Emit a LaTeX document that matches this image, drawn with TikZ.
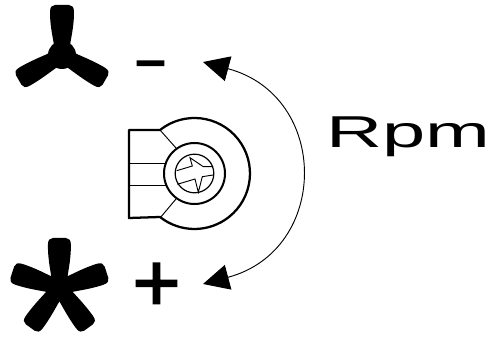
\documentclass[tikz,border=0pt]{standalone}
\usepackage{fontspec}
\setmainfont{Liberation Sans}
\newfontfamily\signfont[FakeBold=2]{Liberation Sans}
\usetikzlibrary{arrows.meta, positioning}
\tikzstyle{label} = [inner sep=0pt, outer sep=0pt, text=black]
\tikzstyle{ring} = [circle, draw=black, inner sep=0pt, line width=1.5pt]
\tikzstyle{heavy} = [line width=1.7pt, line join=round]
\tikzstyle{light} = [line width=0.7pt]
\tikzstyle{arrow} = [line width=0.7pt,{Triangle[length=19.5pt,width=19pt]}-{Triangle[length=19.5pt,width=19pt]}]
\tikzstyle{blade} = [fill=black, draw=none]
% blade{length}{half width at the tip}
\newcommand{\bladeshape}[2]{(-8,-8) .. controls (-8,-14) and (-#2,-#1+24) .. (-#2,-#1+7)
  .. controls (-#2,-#1+2) and (-#2+2,-#1) .. (-#2+5,-#1) -- (#2-5,-#1)
  .. controls (#2-2,-#1) and (#2,-#1+2) .. (#2,-#1+7)
  .. controls (#2,-#1+24) and (8,-14) .. (8,-8) -- cycle}
\begin{document}
\begin{tikzpicture}[x=0.75pt, y=-0.75pt]
        \useasboundingbox (0,0) rectangle (492,338);

        % three blade fan
        \coordinate (fanA) at (62,55);
        \fill [blade] (fanA) circle (14);
        \foreach \ang/\wid in {0/12, 120/10.5, 240/10.5}
            \fill [blade, shift={(fanA)}, rotate=\ang] \bladeshape{50}{\wid};

        % five blade fan
        \coordinate (fanB) at (59.4,287.5);
        \fill [blade] (fanB) circle (14);
        \foreach \ang/\wid in {0/11.5, 72/11, 144/10.5, 216/10.5, 288/11}
            \fill [blade, shift={(fanB)}, rotate=\ang] \bladeshape{49.5}{\wid};

        \node (minus) [label, xscale=1.8, font=\signfont\fontsize{44}{44}\selectfont] at (150.5,70) {-};
        \node (plus) [label, font=\signfont\fontsize{62}{62}\selectfont] at (156.5,287) {+};
        \node (rpm) [label, anchor=base west, xscale=1.74, font=\fontsize{33.5}{33.5}\selectfont] at (326,148) {Rpm};

        % knob
        \coordinate (knob) at (194.5,173.5);
        \coordinate (bodyA) at (160,130);
        \coordinate (bodyB) at (160,218);
        \coordinate (cornerA) at (129,130);
        \coordinate (cornerB) at (129,218);
        \node (collar) [ring, minimum size=45.75pt] at (knob) {};
        \node (screw) [ring, line width=0.9pt, minimum size=29pt] at (knob) {};
        \draw [heavy] (bodyA) arc [start angle=-128.4, end angle=128.4, radius=55.5] -- (cornerB) -- (cornerA) -- cycle;
        \draw [light] (bodyA) -- (176,148);
        \draw [light] (bodyB) -- (176,199);
        \draw [light] (129,163) -- (166,163);
        \draw [light] (129,185) -- (166,185);
        \draw [light, line join=miter] (176.7,170.7) -- (192.3,166) -- (190,157.7) -- (203.3,166.7) -- (213,166.7);
        \draw [light, line join=miter] (213,175) -- (202.3,176.7) -- (198.3,192.3) -- (195,179) -- (177.3,184.3);

        % rpm arrow
        \coordinate (tipminus) at (203,62);
        \coordinate (tipplus) at (203,284);
        \draw [arrow] (tipminus) .. controls (330,96) and (330,250) .. (tipplus);

\end{tikzpicture}
\end{document}
